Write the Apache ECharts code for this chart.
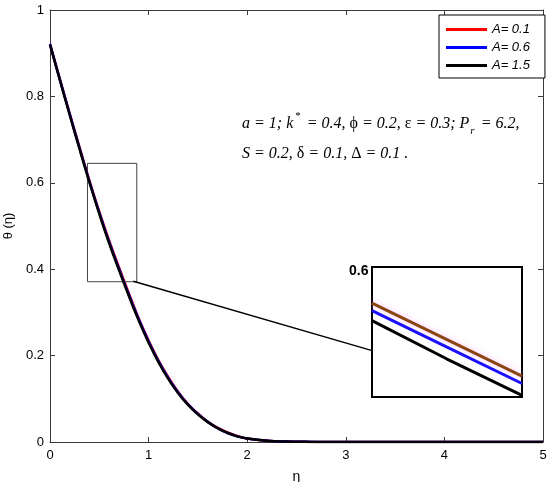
<!DOCTYPE html>
<html><head><meta charset="utf-8">
<script src="https://cdn.jsdelivr.net/npm/echarts@6/dist/echarts.min.js"></script>
<style>html,body{margin:0;padding:0;background:#fff}#c{width:550px;height:482px}</style>
</head><body><div id="c"></div>
<script>
// ---- data ----
const eta = [0,0.1,0.2,0.3,0.4,0.5,0.6,0.7,0.8,0.9,1.0,1.1,1.2,1.3,1.4,1.5,1.6,1.7,1.8,1.9,2.0,2.2,2.4,2.6,2.8,3.0,3.5,4.0,4.5,5.0];
const thetaA01 = [0.921,0.840,0.760,0.682,0.605,0.533,0.466,0.404,0.344,0.286,0.235,0.189,0.150,0.116,0.088,0.066,0.047,0.033,0.022,0.014,0.008,0.003,0.001,0.0004,0.0001,0,0,0,0,0];
const thetaA06 = [0.921,0.839,0.759,0.680,0.603,0.531,0.463,0.401,0.341,0.284,0.233,0.187,0.148,0.115,0.087,0.065,0.047,0.032,0.021,0.013,0.008,0.003,0.001,0.0003,0.0001,0,0,0,0,0];
const thetaA15 = [0.920,0.838,0.757,0.678,0.601,0.528,0.460,0.398,0.338,0.281,0.230,0.185,0.146,0.113,0.086,0.064,0.046,0.032,0.021,0.013,0.008,0.003,0.001,0.0003,0,0,0,0,0,0];
const seriesNames = ['A= 0.1','A= 0.6','A= 1.5'];
const xTicks = [0,1,2,3,4,5];
const yTicks = [0,0.2,0.4,0.6,0.8,1];
// zoom box (data coords) and connector
const boxEta = [0.38,0.88,0.88,0.38,0.38];
const boxTheta = [0.645,0.645,0.371,0.371,0.645];
const connEta = [0.845,3.276];
const connTheta = [0.372,0.211];
// inset (normalized inset coordinates)
const insetX = [0,0.5,1];
const insetA01 = [0.722,0.441,0.160];
const insetA06 = [0.665,0.384,0.104];
const insetA15 = [0.588,0.292,0.013];
const insetLabel = '0.6';

const pairs = (xs, ys) => xs.map((x,i)=>[x,ys[i]]);
const chart = echarts.init(document.getElementById('c'), null, {renderer:'canvas'});
const axCol = '#3a3a3a';
const fnt = '"Liberation Sans", Arial, sans-serif';
const lbl = {color:'#000', fontSize:13, fontFamily:fnt};

chart.setOption({
  animation:false,
  backgroundColor:'#fff',
  grid:[
    {left:50, right:7, top:10, bottom:40, containLabel:false, outerBoundsMode:'none'},
    {left:372, top:267, width:150, height:130, show:true, borderColor:'#000', borderWidth:2, backgroundColor:'#fff', z:5, containLabel:false, outerBoundsMode:'none'}
  ],
  legend:{
    data:seriesNames, orient:'vertical', left:439, top:15,
    backgroundColor:'#fff', borderColor:'#000', borderWidth:1, padding:[8,15,6,7],
    itemWidth:41, itemHeight:3, itemGap:5, icon:'rect',
    textStyle:{fontSize:13, fontStyle:'italic', fontFamily:fnt, color:'#000'}
  },
  xAxis:[
    {gridIndex:0, type:'value', min:0, max:5, interval:1, name:'η', nameLocation:'middle', nameGap:28,
     nameTextStyle:{fontSize:14, fontFamily:fnt, color:'#000'},
     axisLine:{onZero:false, lineStyle:{color:axCol}}, axisTick:{inside:true, length:5, lineStyle:{color:axCol}},
     axisLabel:Object.assign({margin:7}, lbl), splitLine:{show:false}},
    {gridIndex:0, type:'value', position:'top', min:0, max:5, interval:1,
     axisLine:{onZero:false, lineStyle:{color:axCol}}, axisTick:{inside:true, length:5, lineStyle:{color:axCol}},
     axisLabel:{show:false}, splitLine:{show:false}},
    {gridIndex:1, type:'value', min:0, max:1, show:false}
  ],
  yAxis:[
    {gridIndex:0, type:'value', min:0, max:1, interval:0.2, name:'θ (η)', nameLocation:'middle', nameGap:33,
     nameTextStyle:{fontSize:13, fontFamily:fnt, color:'#000'},
     axisLine:{onZero:false, lineStyle:{color:axCol}}, axisTick:{inside:true, length:5, lineStyle:{color:axCol}},
     axisLabel:Object.assign({margin:6}, lbl), splitLine:{show:false}},
    {gridIndex:0, type:'value', position:'right', min:0, max:1, interval:0.2,
     axisLine:{onZero:false, lineStyle:{color:axCol}}, axisTick:{inside:true, length:5, lineStyle:{color:axCol}},
     axisLabel:{show:false}, splitLine:{show:false}},
    {gridIndex:1, type:'value', min:0, max:1, show:false}
  ],
  series:[
    {name:seriesNames[0], type:'line', xAxisIndex:0, yAxisIndex:0, data:pairs(eta,thetaA01), smooth:true, showSymbol:false, color:'#ff0000', lineStyle:{width:2.5}, z:2},
    {name:seriesNames[1], type:'line', xAxisIndex:0, yAxisIndex:0, data:pairs(eta,thetaA06), smooth:true, showSymbol:false, color:'#0000ff', lineStyle:{width:2.5}, z:3},
    {name:seriesNames[2], type:'line', xAxisIndex:0, yAxisIndex:0, data:pairs(eta,thetaA15), smooth:true, showSymbol:false, color:'#000000', lineStyle:{width:2.5}, z:4},
    {name:'box', type:'line', xAxisIndex:0, yAxisIndex:0, data:pairs(boxEta,boxTheta), showSymbol:false, color:'#444', lineStyle:{width:1}, z:1},
    {name:'conn', type:'line', xAxisIndex:0, yAxisIndex:0, data:pairs(connEta,connTheta), showSymbol:false, color:'#000', lineStyle:{width:1.5}, z:1},
    {name:'i1', type:'line', xAxisIndex:2, yAxisIndex:2, data:pairs(insetX,insetA01), showSymbol:false, color:'#8B4513', lineStyle:{width:3, shadowColor:'rgba(255,150,255,0.6)', shadowBlur:6}, z:6},
    {name:'i2', type:'line', xAxisIndex:2, yAxisIndex:2, data:pairs(insetX,insetA06), showSymbol:false, color:'#1a10ff', lineStyle:{width:3}, z:6},
    {name:'i3', type:'line', xAxisIndex:2, yAxisIndex:2, data:pairs(insetX,insetA15), showSymbol:false, color:'#000', lineStyle:{width:3}, z:6}
  ],
  graphic:[
    {type:'text', left:349, top:264, z:10, style:{text:insetLabel, font:'bold 14px '+fnt, fill:'#000'}},
    {type:'text', left:242, top:109, z:10, style:{
      text:'{i|a = 1; k}{sup|*}{i| = 0.4, }{g|ϕ}{i| = 0.2, }{g|ε}{i| = 0.3; P}{sub|r}{i| = 6.2,}\n{i|S = 0.2, }{g|δ}{i| = 0.1, }{g|Δ}{i| = 0.1 .}',
      fill:'#000', lineHeight:30,
      rich:{
        i:{fontFamily:'"Liberation Serif", "Times New Roman", serif', fontStyle:'italic', fontSize:16, lineHeight:30},
        g:{fontFamily:'"Liberation Serif", "Times New Roman", serif', fontSize:16, lineHeight:30},
        sup:{fontFamily:'"Liberation Serif", serif', fontSize:11, verticalAlign:'top', lineHeight:30, padding:[2,2,0,2]},
        sub:{fontFamily:'"Liberation Serif", serif', fontStyle:'italic', fontSize:11, verticalAlign:'bottom', lineHeight:30, padding:[0,2,2,1]}
      }}}
  ]
});
</script></body></html>
